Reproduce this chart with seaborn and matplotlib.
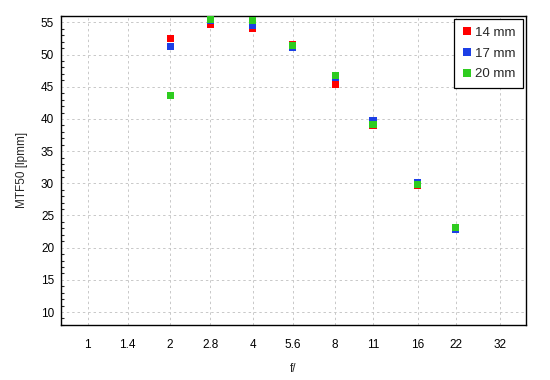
import matplotlib
matplotlib.use('Agg')
import matplotlib.pyplot as plt
import matplotlib.ticker as mticker
import numpy as np
import pandas as pd
import seaborn as sns

# f-numbers shown on the axis and the ones that have measurements
f_ticks = [1, 1.4, 2, 2.8, 4, 5.6, 8, 11, 16, 22, 32]
f_stops = [2, 2.8, 4, 5.6, 8, 11, 16, 22]

mtf_14mm = [52.5, 54.7, 54.0, 51.6, 45.4, 39.0, 29.7, 22.9]
mtf_17mm = [51.3, 55.3, 54.5, 51.1, 46.4, 39.8, 30.1, 22.8]
mtf_20mm = [43.7, 55.4, 55.3, 51.4, 46.8, 39.2, 29.8, 23.1]

series_names = ['14 mm', '17 mm', '20 mm']
colors = ['#ff0000', '#1c3fe6', '#2ecc1f']

df = pd.concat([
  pd.DataFrame({'f': f_stops, 'mtf': vals, 'focal': name})
  for name, vals in zip(series_names, [mtf_14mm, mtf_17mm, mtf_20mm])
], ignore_index=True)

sns.set_style('white')
plt.rcParams['font.family'] = ['Liberation Sans', 'DejaVu Sans']
plt.rcParams['font.size'] = 8

fig = plt.figure(figsize=(5.5, 3.8), dpi=100)
ax = fig.add_axes([0.111, 0.145, 0.845, 0.813])

sns.scatterplot(data=df, x='f', y='mtf', hue='focal', hue_order=series_names,
                palette=colors, marker='s', s=26, linewidth=0, ax=ax, zorder=3)

ax.set_xscale('log', base=2)
ax.set_xlim(0.8, 39.7)
ax.set_ylim(8, 56)
ax.xaxis.set_major_locator(mticker.FixedLocator(f_ticks))
ax.xaxis.set_major_formatter(mticker.FixedFormatter([str(f) for f in f_ticks]))
ax.xaxis.set_minor_locator(mticker.NullLocator())
ax.yaxis.set_major_locator(mticker.MultipleLocator(5))
ax.yaxis.set_minor_locator(mticker.MultipleLocator(1))
ax.set_yticks(np.arange(10, 56, 5))

ax.grid(True, which='major', color='#c8c8c8', linestyle=(0, (2.5, 3)), linewidth=0.7)
ax.tick_params(axis='both', which='major', direction='in', length=4.5, width=0.8,
               labelsize=8.5, colors='black')
ax.tick_params(axis='y', which='minor', direction='in', length=2.5, width=0.8, left=True)
ax.tick_params(axis='y', which='major', pad=5)
ax.tick_params(axis='x', which='major', pad=10)
for sp in ax.spines.values():
  sp.set_color('black')
  sp.set_linewidth(1.0)

ax.set_xlabel('f/', fontsize=8.5, labelpad=9)
ax.set_ylabel('MTF50 [lpmm]', fontsize=8.5, labelpad=9)

sns.move_legend(ax, 'upper right', title=None, frameon=True, fancybox=False,
                edgecolor='black', framealpha=1, fontsize=9.5, borderaxespad=0.25,
                handletextpad=0.2, handlelength=0.8, labelspacing=0.65,
                borderpad=0.55)
ax.get_legend().get_frame().set_linewidth(0.9)

fig.savefig('out.png', dpi=100)
